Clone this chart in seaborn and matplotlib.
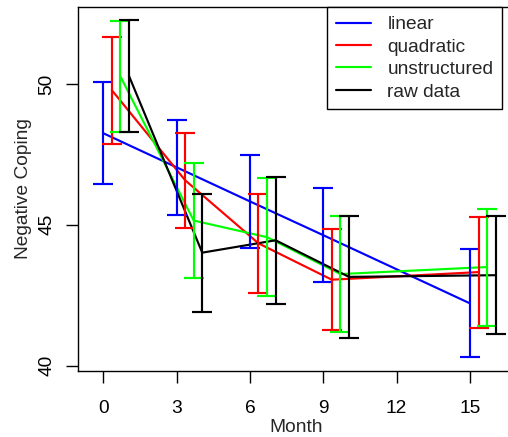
import numpy as np
import pandas as pd
import matplotlib
matplotlib.use("Agg")
import matplotlib.pyplot as plt
import seaborn as sns

months = [0, 3, 6, 9, 15]
series_names = ["linear", "quadratic", "unstructured", "raw data"]

linear_mean = [48.25, 47.04, 45.83, 44.63, 42.21]
linear_lo = [46.46, 45.35, 44.19, 42.97, 40.30]
linear_hi = [50.07, 48.72, 47.48, 46.30, 44.13]

quadratic_mean = [49.78, 46.58, 44.34, 43.05, 43.32]
quadratic_lo = [47.86, 44.89, 42.58, 41.26, 41.35]
quadratic_hi = [51.68, 48.27, 46.10, 44.85, 45.29]

unstructured_mean = [50.27, 45.15, 44.56, 43.25, 43.50]
unstructured_lo = [48.31, 43.10, 42.46, 41.19, 41.42]
unstructured_hi = [52.22, 47.21, 46.66, 45.30, 45.57]

raw_mean = [50.29, 44.01, 44.45, 43.15, 43.21]
raw_lo = [48.30, 41.92, 42.20, 40.99, 41.12]
raw_hi = [52.27, 46.10, 46.71, 45.30, 45.31]

x_ticks = [0, 3, 6, 9, 12, 15]
y_ticks = [40, 45, 50]

means = [linear_mean, quadratic_mean, unstructured_mean, raw_mean]
los = [linear_lo, quadratic_lo, unstructured_lo, raw_lo]
his = [linear_hi, quadratic_hi, unstructured_hi, raw_hi]
colors = ["#0000FF", "#FF0000", "#00FF00", "#000000"]
offset_step = 0.35

rows = []
for i, name in enumerate(series_names):
    for m, mu, lo, hi in zip(months, means[i], los[i], his[i]):
        rows.append(dict(series=name, x=m + i * offset_step, mean=mu, lo=lo, hi=hi))
df = pd.DataFrame(rows)

sns.set_style("ticks")
plt.rcParams["font.family"] = ["Liberation Sans", "DejaVu Sans"]
FS = 13.8

dpi = 100
fig = plt.figure(figsize=(5.08, 4.37), dpi=dpi)
L, R, B, T = 78.3, 513.5, 437 - 370.7, 437 - 7.3
ax = fig.add_axes([L / 508, B / 437, (R - L) / 508, (T - B) / 437])

lw = 1.55
sns.lineplot(data=df, x="x", y="mean", hue="series", palette=colors,
             hue_order=series_names, linewidth=lw, ax=ax, legend=False,
             estimator=None, sort=False, errorbar=None)
for i, name in enumerate(series_names):
    d = df[df.series == name]
    ax.errorbar(d["x"], d["mean"], yerr=[d["mean"] - d["lo"], d["hi"] - d["mean"]],
                fmt="none", ecolor=colors[i], elinewidth=lw, capsize=7.2,
                capthick=lw, clip_on=False, zorder=3 + i)

ax.set_xlim(-1.02, 16.78)
ax.set_ylim(39.82, 52.72)
ax.set_xticks(x_ticks)
ax.set_xticklabels([str(t) for t in x_ticks])
ax.set_yticks(y_ticks)
ax.set_yticklabels([str(t) for t in y_ticks], rotation=90, va="center")
ax.tick_params(axis="both", direction="out", length=8.4, width=1.0,
               color="black", labelsize=FS, labelcolor="black")
ax.tick_params(axis="x", pad=12.5)
ax.tick_params(axis="y", pad=8)
ax.set_xlabel("Month", fontsize=FS, labelpad=1.5)
ax.set_ylabel("Negative Coping", fontsize=FS, labelpad=5)
for s in ["left", "bottom", "top"]:
    ax.spines[s].set_visible(True)
    ax.spines[s].set_color("black")
    ax.spines[s].set_linewidth(1.0)
ax.spines["right"].set_visible(False)

from matplotlib.lines import Line2D
handles = [Line2D([], [], color=c, lw=lw) for c in colors]
leg = fig.legend(handles, series_names, loc="upper right",
                 bbox_to_anchor=(502 / 508, (437 - 7.3) / 437),
                 fontsize=FS, frameon=True, fancybox=False, framealpha=1,
                 edgecolor="black", handlelength=1.85, handletextpad=0.85,
                 labelspacing=0.26, borderpad=0.45, borderaxespad=0)
leg.get_frame().set_linewidth(1.0)

fig.savefig("out.png", dpi=dpi)
